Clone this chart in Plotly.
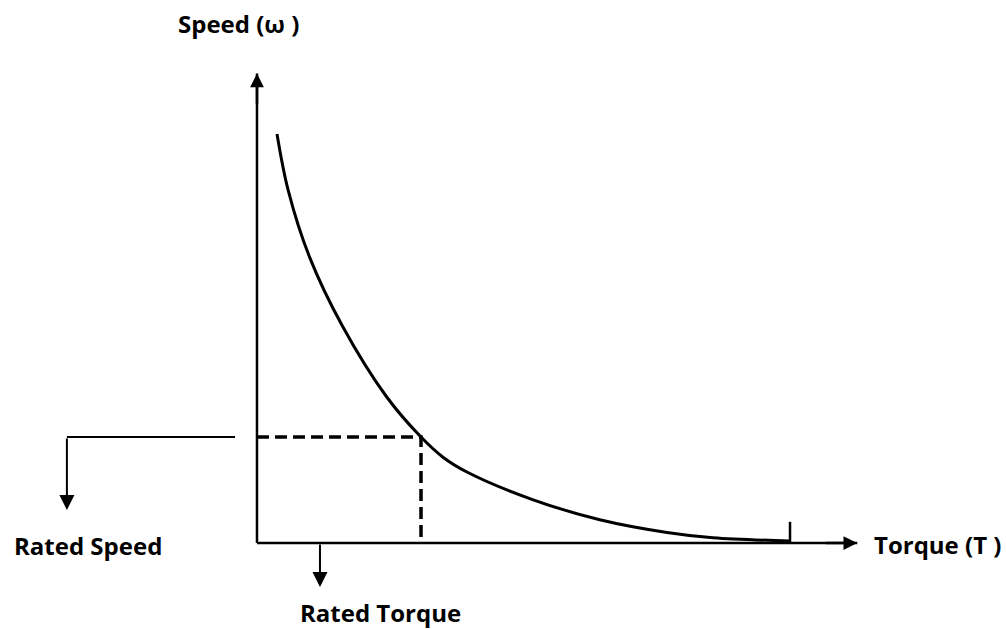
import plotly.graph_objects as go

# Speed-torque characteristic (per-unit: rated torque = 1, rated speed = 1)
torque = [0.122, 0.19, 0.32, 0.52, 0.79, 1.0, 1.134, 1.28, 1.68, 2.09, 2.50, 2.78, 3.25]
speed = [3.86, 3.33, 2.70, 2.05, 1.38, 1.0, 0.81, 0.67, 0.41, 0.22, 0.10, 0.05, 0.02]

rated_torque = 1.0
rated_speed = 1.0

x_axis_end = 3.66
y_axis_end = 4.43
end_tick_t = 3.25
end_tick_h = 0.2

label_font = dict(family="Open Sans", size=24, color="black")

fig = go.Figure()

# Curve
fig.add_trace(go.Scatter(
    x=torque, y=speed, mode="lines",
    line=dict(color="black", width=3, shape="spline", smoothing=1.0),
    hoverinfo="skip", showlegend=False,
))

# Rated-point dashed guides
fig.add_trace(go.Scatter(
    x=[0, rated_torque, rated_torque], y=[rated_speed, rated_speed, 0],
    mode="lines", line=dict(color="black", width=3.5, dash="12px,6px"),
    hoverinfo="skip", showlegend=False,
))

# Axis lines
fig.add_trace(go.Scatter(
    x=[0, 0, None, 0, x_axis_end, None, end_tick_t, end_tick_t],
    y=[y_axis_end, 0, None, 0, 0, None, 0, end_tick_h],
    mode="lines", line=dict(color="black", width=2.5),
    hoverinfo="skip", showlegend=False,
))

# Rated speed callout line
fig.add_trace(go.Scatter(
    x=[-0.134, -1.159], y=[rated_speed, rated_speed],
    mode="lines", line=dict(color="black", width=2),
    hoverinfo="skip", showlegend=False,
))

annotations = [
    # Axis arrowheads
    dict(x=0, y=y_axis_end, ax=0, ay=y_axis_end - 0.3, xref="x", yref="y",
         axref="x", ayref="y", showarrow=True, arrowhead=2, arrowsize=1.1,
         arrowwidth=2.5, arrowcolor="black", text=""),
    dict(x=x_axis_end, y=0, ax=x_axis_end - 0.2, ay=0, xref="x", yref="y",
         axref="x", ayref="y", showarrow=True, arrowhead=2, arrowsize=1.1,
         arrowwidth=2.5, arrowcolor="black", text=""),
    # Callout arrows
    dict(x=-1.159, y=0.311, ax=-1.159, ay=rated_speed, xref="x", yref="y",
         axref="x", ayref="y", showarrow=True, arrowhead=2, arrowsize=1.5,
         arrowwidth=2, arrowcolor="black", text=""),
    dict(x=0.384, y=-0.415, ax=0.384, ay=0, xref="x", yref="y",
         axref="x", ayref="y", showarrow=True, arrowhead=2, arrowsize=1.5,
         arrowwidth=2, arrowcolor="black", text=""),
    # Labels
    dict(x=-0.11, y=4.90, xref="x", yref="y", text="<b>Speed (ω )</b>",
         showarrow=False, font=label_font),
    dict(x=3.75, y=-0.01, xref="x", yref="y", text="<b>Torque (T )</b>",
         showarrow=False, xanchor="left", font=label_font),
    dict(x=-1.03, y=-0.02, xref="x", yref="y", text="<b>Rated Speed</b>",
         showarrow=False, font=label_font),
    dict(x=0.75, y=-0.66, xref="x", yref="y", text="<b>Rated Torque</b>",
         showarrow=False, font=label_font),
]

fig.update_layout(
    width=1006, height=629,
    margin=dict(l=0, r=0, t=0, b=0),
    paper_bgcolor="white", plot_bgcolor="white",
    xaxis=dict(range=[-1.567, 4.567], visible=False, fixedrange=True),
    yaxis=dict(range=[-0.811, 5.123], visible=False, fixedrange=True),
    annotations=annotations,
    showlegend=False,
)

fig.write_html("out.html")
